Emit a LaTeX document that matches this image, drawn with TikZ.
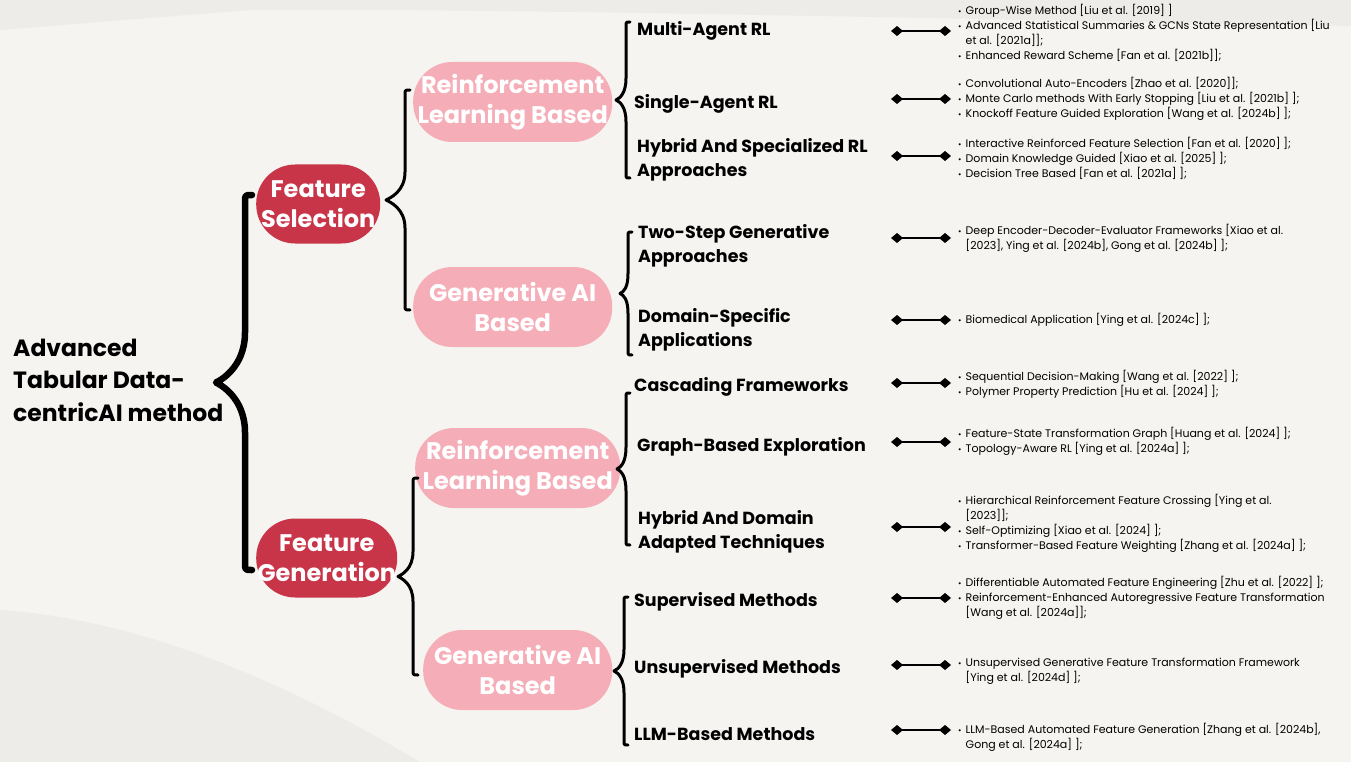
\documentclass[tikz,border=0pt]{standalone}
\usepackage{fontspec}
\setmainfont{Poppins}
\usetikzlibrary{arrows.meta,calc}
\definecolor{deepred}{RGB}{200,52,72}
\definecolor{softpink}{RGB}{245,173,184}
\definecolor{paper}{RGB}{245,244,241}
\definecolor{papershade}{RGB}{238,236,233}

% bullet and hanging indent for the reference lists
\newcommand{\bul}{\makebox[7.5pt][l]{\scalebox{0.75}{\textbullet}}}
\newcommand{\cont}{\hspace*{7.5pt}}

% curly brace opening to the right: [style]{top}{bottom}{arm}{tip}{curve}
\newcommand{\sidebrace}[6][]{%
  \draw[#1] let \p1=(#2), \p2=(#3) in
    (\p1) .. controls (\x1-#4pt,\y1) .. (\x1-#4pt,\y1-#4pt)
    -- (\x1-#4pt,{(\y1+\y2)/2+#6pt})
    .. controls (\x1-#4pt,{(\y1+\y2)/2+0.3*#6pt}) and (\x1-#5pt+4pt,{(\y1+\y2)/2+2pt}) .. (\x1-#5pt,{(\y1+\y2)/2})
    .. controls (\x1-#5pt+4pt,{(\y1+\y2)/2-2pt}) and (\x1-#4pt,{(\y1+\y2)/2-0.3*#6pt}) .. (\x1-#4pt,{(\y1+\y2)/2-#6pt})
    -- (\x1-#4pt,\y2+#4pt) .. controls (\x1-#4pt,\y2) .. (\p2);%
}

\begin{document}
\begin{tikzpicture}[x=1pt,y=-1pt,
    main/.style={anchor=west,align=left,inner sep=0pt,font=\fontsize{23.5}{32.5}\selectfont\bfseries},
    topic/.style={rectangle,rounded corners=39pt,fill=deepred,text=white,anchor=west,align=center,minimum height=79pt,inner xsep=0pt,font=\fontsize{24}{29.5}\selectfont\bfseries},
    branch/.style={topic,fill=softpink,minimum height=80pt},
    leaf/.style={anchor=west,align=left,inner sep=0pt,font=\fontsize{17.5}{24.5}\selectfont\bfseries},
    refs/.style={anchor=west,align=left,inner xsep=7pt,inner ysep=0pt,font=\fontsize{11}{15}\selectfont},
    link/.style={line width=2.5pt,<->,>={Diamond[length=12pt,width=10pt]}},
    brace/.style={line width=3pt,line cap=round,line join=round}]

    % paper background
    \fill[paper] (0,0) rectangle (1351,762);
    \fill[papershade] (0,0) -- (1351,0) -- (1351,26) .. controls (1000,20) and (500,8) .. (250,10) -- (0,30) -- cycle;
    \fill[papershade] (0,610) .. controls (150,620) and (300,690) .. (420,762) -- (0,762) -- cycle;
    \useasboundingbox (0,0) rectangle (1351,762);

    % root and the two main topics
    \node[main] (root) at (13,380) {Advanced\\Tabular Data-\\centricAI method};
    \node[topic,minimum width=124pt] (fs) at (256,204) {Feature\\Selection};
    \node[topic,minimum width=141pt] (fg) at (256,558) {Feature\\Generation};

    % families of methods
    \node[branch,minimum width=199pt] (rl1) at (413,102) {Reinforcement\\Learning Based};
    \node[branch,minimum width=199pt] (ga1) at (413,307) {Generative AI\\Based};
    \node[branch,minimum width=205pt] (rl2) at (415,468) {Reinforcement\\Learning Based};
    \node[branch,minimum width=189pt] (ga2) at (423,670) {Generative AI\\Based};

    % method groups
    \node[leaf] (m1) at (637,31) {Multi-Agent RL};
    \node[leaf] (m2) at (634,104) {Single-Agent RL};
    \node[leaf] (m3) at (637,160) {Hybrid And Specialized RL\\Approaches};
    \node[leaf] (m4) at (638,246) {Two-Step Generative\\Approaches};
    \node[leaf] (m5) at (638,330) {Domain-Specific\\Applications};
    \node[leaf] (m6) at (634,387) {Cascading Frameworks};
    \node[leaf] (m7) at (637,447) {Graph-Based Exploration};
    \node[leaf] (m8) at (638,532) {Hybrid And Domain\\Adapted Techniques};
    \node[leaf] (m9) at (634,602) {Supervised Methods};
    \node[leaf] (m10) at (634,669) {Unsupervised Methods};
    \node[leaf] (m11) at (634,734) {LLM-Based Methods};

    % braces
    \sidebrace[brace,line width=6.5pt]{$(fs.west)+(-4,-9)$}{$(fg.west)+(-4,12)$}{7}{36}{50}
    \sidebrace[brace]{$(rl1.west)+(-3,-12)$}{$(ga1.west)+(-3,3)$}{5}{24}{28}
    \sidebrace[brace]{$(rl2.west)+(3,10)$}{$(ga2.west)+(-5,5)$}{5}{20}{25}
    \sidebrace[brace]{$(m1.west)+(-7,-9)$}{$(m3.west)+(-7,18)$}{4}{14}{22}
    \sidebrace[brace]{$(m4.west)+(-6,-14)$}{$(m5.west)+(-6,25)$}{4}{12}{20}
    \sidebrace[brace]{$(m6.west)+(-4,6)$}{$(m8.west)+(-8,13)$}{4}{13}{22}
    \sidebrace[brace]{$(m9.west)+(-6,-5)$}{$(m11.west)+(-6,11)$}{4}{14}{22}

    % reference lists
    \node[refs] (r1) at (951,33) {\bul Group-Wise Method [Liu et al. [2019] ]\\\bul Advanced Statistical Summaries \& GCNs State Representation [Liu\\\cont et al. [2021a]];\\\bul Enhanced Reward Scheme [Fan et al. [2021b]];};
    \node[refs] (r2) at (951,99) {\bul Convolutional Auto-Encoders [Zhao et al. [2020]];\\\bul Monte Carlo methods With Early Stopping [Liu et al. [2021b] ];\\\bul Knockoff Feature Guided Exploration [Wang et al. [2024b] ];};
    \node[refs] (r3) at (951,158) {\bul Interactive Reinforced Feature Selection [Fan et al. [2020] ];\\\bul Domain Knowledge Guided [Xiao et al. [2025] ];\\\bul Decision Tree Based [Fan et al. [2021a] ];};
    \node[refs] (r4) at (951,238) {\bul Deep Encoder-Decoder-Evaluator Frameworks [Xiao et al.\\\cont [2023], Ying et al. [2024b], Gong et al. [2024b] ];};
    \node[refs] (r5) at (951,320) {\bul Biomedical Application [Ying et al. [2024c] ];};
    \node[refs] (r6) at (951,384) {\bul Sequential Decision-Making [Wang et al. [2022] ];\\\bul Polymer Property Prediction [Hu et al. [2024] ];};
    \node[refs] (r7) at (951,441) {\bul Feature-State Transformation Graph [Huang et al. [2024] ];\\\bul Topology-Aware RL [Ying et al. [2024a] ];};
    \node[refs] (r8) at (951,523) {\bul Hierarchical Reinforcement Feature Crossing [Ying et al.\\\cont [2023]];\\\bul Self-Optimizing [Xiao et al. [2024] ];\\\bul Transformer-Based Feature Weighting [Zhang et al. [2024a] ];};
    \node[refs] (r9) at (951,598) {\bul Differentiable Automated Feature Engineering [Zhu et al. [2022] ];\\\bul Reinforcement-Enhanced Autoregressive Feature Transformation\\\cont [Wang et al. [2024a]];};
    \node[refs] (r10) at (951,671) {\bul Unsupervised Generative Feature Transformation Framework\\\cont [Ying et al. [2024d] ];};
    \node[refs] (r11) at (951,737) {\bul LLM-Based Automated Feature Generation [Zhang et al. [2024b],\\\cont Gong et al. [2024a] ];};

    % diamond connectors
    \foreach \i/\y in {1/31,2/99,3/156,4/238,5/320,6/383,7/442,8/527,9/598,10/665,11/730} {
        \coordinate (k\i) at (891,\y);
        \draw[link] (k\i) -- (r\i.west |- k\i);
    }
\end{tikzpicture}
\end{document}
